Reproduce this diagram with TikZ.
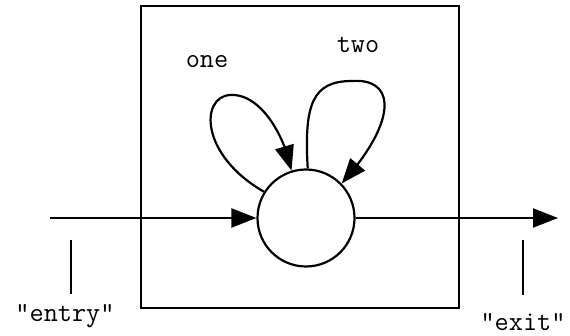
\documentclass[tikz,border=0pt]{standalone}
\usepackage{fontspec}
\usetikzlibrary{arrows.meta,bending}
\tikzset{
  ln/.style={line width=2.2pt, black},
  arr/.style={ln, -{Triangle[length=25pt,width=19pt]}},
  lbl/.style={font=\ttfamily\fontsize{27.5}{32}\selectfont, anchor=base, inner sep=0pt},
  state/.style={circle, draw, line width=2.2pt, minimum size=97pt, inner sep=0pt}
}
\begin{document}
\begin{tikzpicture}[x=1pt,y=-1pt]
\useasboundingbox (0,0) rectangle (570,336);
\draw[ln] (141,6) rectangle (459,308);
\node[state] (c) at (306,218) {};
\coordinate (in) at (50,218);
\coordinate (out) at (558,218);
\draw[arr] (in) -- (c.west);
\draw[arr] (c.east) -- (out);
% loops
\draw[arr] (c.148) .. controls (200,155) and (200,97) .. (230,95)
  .. controls (258,93) and (283,130) .. (c.107);
\draw[arr] (c.88) .. controls (304,105) and (312,81) .. (352,81)
  .. controls (397,78) and (397,122) .. (c.44);
% labels
\node[lbl] (one) at (207,68) {one};
\node[lbl] (two) at (358,53) {two};
\node[lbl] (entry) at (65,322) {"entry"};
\node[lbl] (exit) at (523,331) {"exit"};
\coordinate (t1a) at (71,240);
\coordinate (t1b) at (71,294);
\coordinate (t2a) at (523,240);
\coordinate (t2b) at (523,295);
\draw[ln] (t1a) -- (t1b);
\draw[ln] (t2a) -- (t2b);
\end{tikzpicture}
\end{document}
